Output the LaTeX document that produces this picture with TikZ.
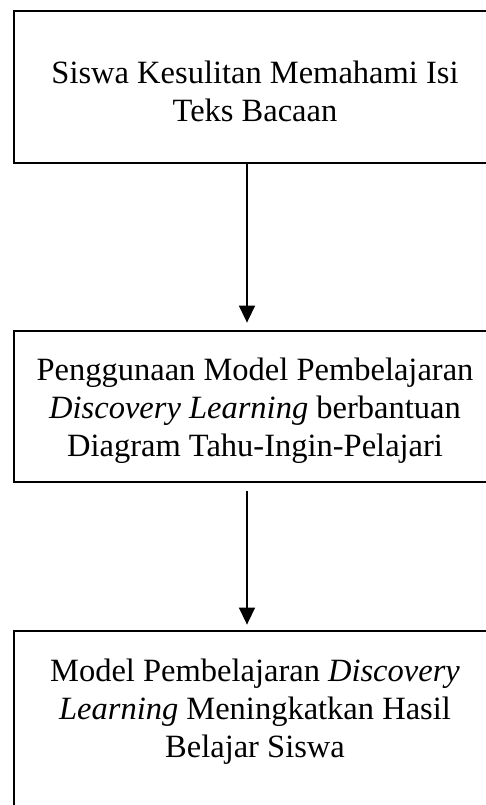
\documentclass[tikz,border=0pt]{standalone}
\usepackage{fontspec}
\setmainfont{Liberation Serif}
\usetikzlibrary{arrows.meta}
\begin{document}
\begin{tikzpicture}[x=1pt,y=-1pt,
  boxnode/.style={draw=black,line width=2.8pt,minimum width=482pt,inner sep=0pt},
  txt/.style={align=center,font=\fontsize{32.5}{38}\selectfont,inner sep=0pt},
  arr/.style={line width=1.5pt,-{Triangle[width=16pt,length=17pt]}}]
\useasboundingbox (0,0) rectangle (486,805);
\node[boxnode,minimum height=152pt] (b1) at (255,87) {};
\node[boxnode,minimum height=151pt] (b2) at (255,406.5) {};
\node[boxnode,minimum height=200pt] (b3) at (255,731) {};
\node[txt] (t1) at (255,91) {Siswa Kesulitan Memahami Isi\\Teks Bacaan};
\node[txt] (t2) at (255,411) {Penggunaan Model Pembelajaran\\\textit{Discovery Learning} berbantuan\\Diagram Tahu-Ingin-Pelajari};
\node[txt] (t3) at (255,712) {Model Pembelajaran \textit{Discovery}\\\textit{Learning} Meningkatkan Hasil\\Belajar Siswa};
\draw[arr,shorten >=7pt] ([xshift=-8pt]b1.south) -- ([xshift=-8pt]b2.north);
\draw[arr,shorten <=8pt,shorten >=5pt] ([xshift=-8pt]b2.south) -- ([xshift=-8pt]b3.north);
\end{tikzpicture}
\end{document}
